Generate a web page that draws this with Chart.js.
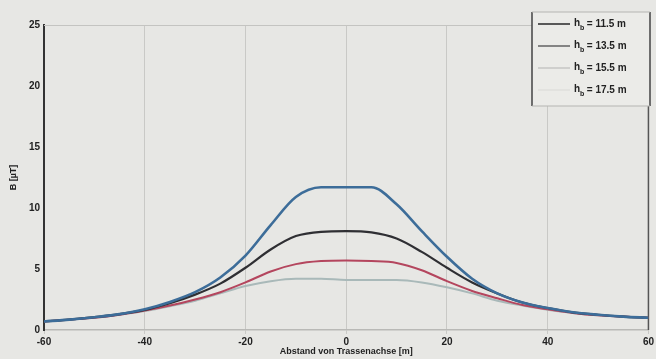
<!DOCTYPE html>
<html>
<head>
<meta charset="utf-8">
<script src="https://cdn.jsdelivr.net/npm/chart.js@4/dist/chart.umd.min.js"></script>
<style>
  html, body { margin: 0; padding: 0; background: #e7e7e4; }
  #wrap { width: 656px; height: 359px; }
</style>
</head>
<body>
<div id="wrap"><canvas id="chartB" width="656" height="359"></canvas></div>
<script>
// --------- data ----------------------------------
const xPos = [-60, -55, -50, -45, -40, -35, -30, -25, -20, -15, -10, -5, 0, 5, 10, 15, 20, 25, 30, 35, 40, 45, 50, 55, 60];
const b115 = [0.7, 0.85, 1.05, 1.3, 1.7, 2.3, 3.1, 4.3, 6.1, 8.6, 10.9, 11.7, 11.7, 11.7, 10.3, 8.1, 6.0, 4.2, 3.0, 2.25, 1.8, 1.45, 1.25, 1.1, 1.0];
const b135 = [0.7, 0.85, 1.05, 1.3, 1.65, 2.2, 2.9, 3.8, 5.1, 6.6, 7.7, 8.05, 8.1, 8.0, 7.5, 6.4, 5.1, 3.9, 3.0, 2.25, 1.8, 1.45, 1.25, 1.1, 1.0];
const b155 = [0.7, 0.85, 1.0, 1.25, 1.6, 2.0, 2.5, 3.1, 3.9, 4.8, 5.4, 5.65, 5.7, 5.65, 5.5, 4.9, 4.0, 3.2, 2.6, 2.05, 1.7, 1.4, 1.2, 1.1, 1.0];
const b175 = [0.7, 0.85, 1.0, 1.25, 1.55, 1.95, 2.4, 3.0, 3.6, 4.0, 4.2, 4.2, 4.1, 4.1, 4.1, 3.9, 3.5, 3.0, 2.4, 2.0, 1.65, 1.4, 1.2, 1.1, 1.0];
const heights = ["11.5", "13.5", "15.5", "17.5"];
const xTicks = [-60, -40, -20, 0, 20, 40, 60];
const yTicks = [0, 5, 10, 15, 20, 25];

const colors = ["#3d6d99", "#2f2f33", "#b4465e", "#a9b9b9"];
const widths = [2.6, 2.2, 2, 2];

const toPts = arr => arr.map((v, i) => ({ x: xPos[i], y: v }));
const series = [b115, b135, b155, b175];

// legend box drawn by hand (h with subscript b)
const legendBox = {
  id: "legendBox",
  afterDraw(c) {
    const ctx = c.ctx;
    const x0 = 532, x1 = 650, y0 = 12, y1 = 106;
    ctx.save();
    ctx.fillStyle = "#ebebe8";
    ctx.fillRect(x0, y0, x1 - x0, y1 - y0);
    ctx.strokeStyle = "#444";
    ctx.lineWidth = 1.5;
    ctx.beginPath();
    ctx.moveTo(x0, y0); ctx.lineTo(x0, y1);
    ctx.moveTo(x1, y0); ctx.lineTo(x1, y1);
    ctx.stroke();
    ctx.strokeStyle = "#b5b5b2";
    ctx.lineWidth = 1;
    ctx.beginPath();
    ctx.moveTo(x0, y0); ctx.lineTo(x1, y0);
    ctx.moveTo(x0, y1); ctx.lineTo(x1, y1);
    ctx.stroke();
    const legCols = ["#333", "#6a6a6a", "#c9c9c6", "#e0e0dd"];
    heights.forEach((h, i) => {
      const y = 24 + i * 22;
      ctx.strokeStyle = legCols[i];
      ctx.lineWidth = 1.6;
      ctx.beginPath();
      ctx.moveTo(538, y); ctx.lineTo(570, y);
      ctx.stroke();
      ctx.fillStyle = "#222";
      ctx.textBaseline = "middle";
      ctx.font = "bold 10px 'Liberation Sans', Arial, sans-serif";
      ctx.fillText("h", 574, y - 1);
      ctx.font = "bold 7px 'Liberation Sans', Arial, sans-serif";
      ctx.fillText("b", 580, y + 4);
      ctx.font = "bold 10px 'Liberation Sans', Arial, sans-serif";
      ctx.fillText(" = " + h + " m", 584, y);
    });
    ctx.restore();
  },
  beforeDatasetsDraw(c) {
    const { ctx, chartArea: a } = c;
    ctx.save();
    ctx.strokeStyle = "#c4c4c1";
    ctx.lineWidth = 1;
    ctx.beginPath();
    ctx.moveTo(a.left, a.top + 0.5); ctx.lineTo(a.right, a.top + 0.5);
    ctx.stroke();
    ctx.strokeStyle = "#555";
    ctx.lineWidth = 1.5;
    ctx.beginPath();
    ctx.moveTo(a.right, a.top); ctx.lineTo(a.right, a.bottom);
    ctx.stroke();
    ctx.restore();
  }
};

new Chart(document.getElementById("chartB"), {
  type: "line",
  data: {
    datasets: series.map((s, i) => ({
      label: "h_b = " + heights[i] + " m",
      data: toPts(s),
      borderColor: colors[i],
      borderWidth: widths[i],
      pointRadius: 0,
      cubicInterpolationMode: "monotone",
      fill: false,
      order: i
    }))
  },
  options: {
    responsive: false,
    animation: false,
    layout: { padding: { top: 25, right: 5, left: 0, bottom: 0 } },
    plugins: { legend: { display: false }, tooltip: { enabled: false } },
    scales: {
      x: {
        type: "linear",
        min: -60, max: 60,
        afterBuildTicks: s => { s.ticks = xTicks.map(v => ({ value: v })); },
        afterFit: s => { s.height = 29; },
        grid: { color: "#c9c9c6", lineWidth: 1, tickLength: 4, drawOnChartArea: true },
        border: { color: "#b9b9b6", width: 1.5 },
        ticks: {
          color: "#222", padding: 2,
          font: { family: "'Liberation Sans', Arial, sans-serif", size: 10, weight: "bold" }
        },
        title: {
          display: true, text: "Abstand von Trassenachse [m]", color: "#222",
          padding: { top: 0, bottom: 2 },
          font: { family: "'Liberation Sans', Arial, sans-serif", size: 9, weight: "bold" }
        }
      },
      y: {
        min: 0, max: 25,
        afterBuildTicks: s => { s.ticks = yTicks.map(v => ({ value: v })); },
        afterFit: s => { s.width = 44; },
        grid: { display: false, drawTicks: false },
        border: { color: "#333", width: 2 },
        ticks: {
          color: "#222", padding: 4,
          font: { family: "'Liberation Sans', Arial, sans-serif", size: 10, weight: "bold" }
        },
        title: {
          display: true, text: "B [µT]", color: "#222",
          padding: { top: 8, bottom: 0 },
          font: { family: "'Liberation Sans', Arial, sans-serif", size: 9, weight: "bold" }
        }
      }
    }
  },
  plugins: [legendBox]
});
</script>
</body>
</html>
